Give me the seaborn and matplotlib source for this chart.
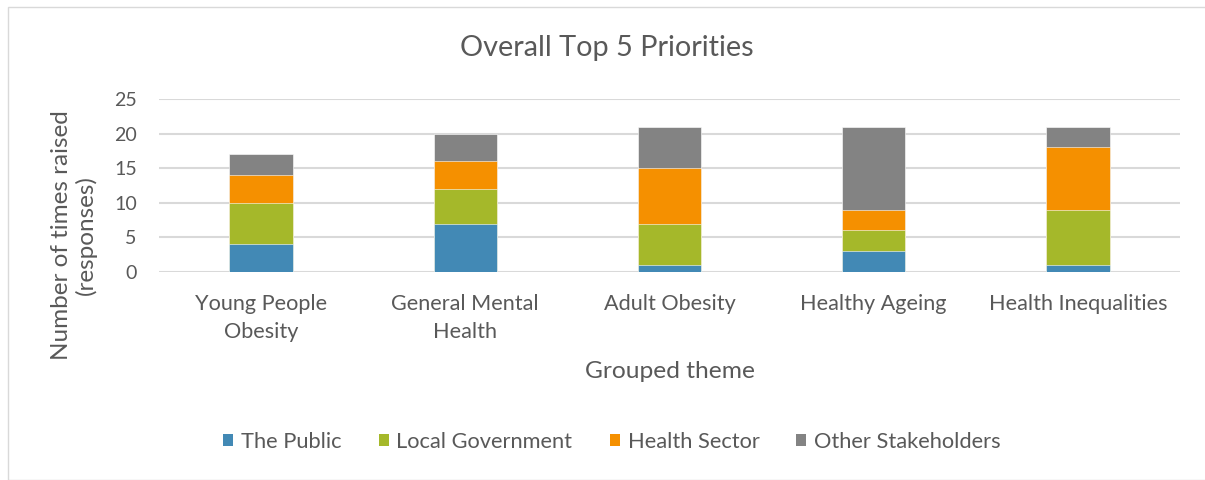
import matplotlib
matplotlib.use("Agg")
import matplotlib.pyplot as plt
import seaborn as sns
import pandas as pd
from matplotlib.patches import Rectangle, Patch

categories = ["Young People\nObesity", "General Mental\nHealth", "Adult Obesity", "Healthy Ageing", "Health Inequalities"]
series_names = ["The Public", "Local Government", "Health Sector", "Other Stakeholders"]
the_public = [4, 7, 1, 3, 1]
local_government = [6, 5, 6, 3, 8]
health_sector = [4, 4, 8, 3, 9]
other_stakeholders = [3, 4, 6, 12, 3]
colors = ["#4289b5", "#a5b82a", "#f59000", "#838383"]
yticks = [0, 5, 10, 15, 20, 25]
title = "Overall Top 5 Priorities"
xlabel = "Grouped theme"
ylabel = "Number of times raised\n(responses)"

sns.set_theme(style="white")
plt.rcParams["font.family"] = ["Lato", "DejaVu Sans"]
text_color = "#595959"

W, H = 1205, 480
fig = plt.figure(figsize=(W / 100, H / 100), dpi=100)
renderer = fig.canvas.get_renderer()


def fit_size(s, target_px, base=10.0):
    t = fig.text(0, 0, s, fontsize=base)
    w = t.get_window_extent(renderer=renderer).width
    t.remove()
    return base * target_px / w


fs_title = fit_size("Overall Top 5 Priorities", 295)
fs_tick = fit_size("Young People", 132)
fs_xlabel = fit_size("Grouped theme", 170)
fs_ylabel = fit_size("Number of times raised", 250)
fs_legend = fit_size("Local Government", 177)
fs_ytick = fit_size("25", 23)

ax = fig.add_axes([159 / W, 1 - 272 / H, 1021 / W, 173 / H])

series = [the_public, local_government, health_sector, other_stakeholders]
cum = []
running = [0] * len(categories)
for s in series:
    running = [a + b for a, b in zip(running, s)]
    cum.append(list(running))

for i in range(len(series) - 1, -1, -1):
    df = pd.DataFrame({"cat": categories, "val": cum[i]})
    sns.barplot(data=df, x="cat", y="val", color=colors[i], width=0.31,
                saturation=1, ax=ax, zorder=3, edgecolor="white", linewidth=0.4)

ax.set_ylim(0, 25)
ax.set_xlim(-0.5, len(categories) - 0.5)
ax.set_yticks(yticks)
ax.yaxis.grid(True, color="#d9d9d9", linewidth=1.5, zorder=0)
ax.set_axisbelow(True)
for sp in ax.spines.values():
    sp.set_visible(False)
ax.tick_params(axis="both", length=0, colors=text_color)
ax.tick_params(axis="y", pad=16, labelsize=fs_ytick)
ax.tick_params(axis="x", pad=16, labelsize=fs_tick)
for lbl in ax.get_xticklabels():
    lbl.set_linespacing(1.5)
ax.set_xlabel("")
ax.set_ylabel("")

fig.text(607 / W, 1 - 48 / H, title, fontsize=fs_title, color=text_color, ha="center", va="center")
fig.text(670 / W, 1 - 372 / H, xlabel, fontsize=fs_xlabel, color=text_color, ha="center", va="center")
fig.text(74 / W, 1 - 235 / H, ylabel, fontsize=fs_ylabel, color=text_color, ha="center", va="center",
         rotation=90, multialignment="center", linespacing=1.15)

fpx = fs_legend * 100 / 72
handles = [Patch(facecolor=c, edgecolor="none", label=n) for c, n in zip(colors, series_names)]
fig.legend(handles=handles, loc="center", bbox_to_anchor=(612 / W, 1 - 442 / H), ncol=4, frameon=False,
           fontsize=fs_legend, labelcolor=text_color, handlelength=10 / fpx, handleheight=10 / fpx,
           handletextpad=8 / fpx, columnspacing=37 / fpx)

fig.patches.append(Rectangle((8 / W, 0), 1.0, 1 - 7 / H, transform=fig.transFigure,
                             fill=False, edgecolor="#d9d9d9", linewidth=1.0))

fig.savefig("out.png", dpi=100)
